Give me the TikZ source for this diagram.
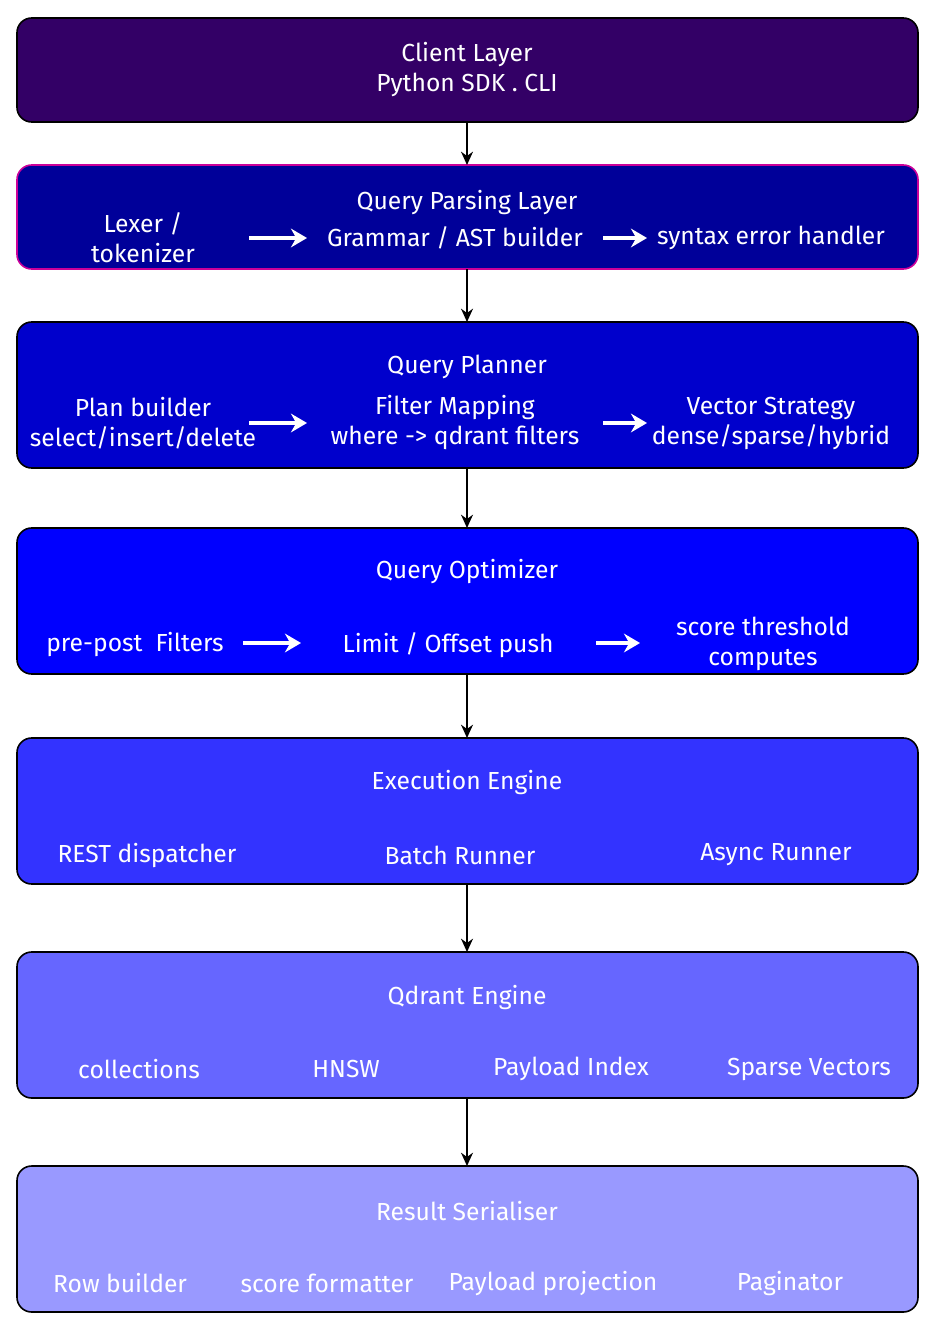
\documentclass[tikz,border=0pt]{standalone}
\usepackage{fontspec}
\setmainfont{Fira Sans}
\usetikzlibrary{arrows.meta}
\definecolor{c1}{HTML}{330066}
\definecolor{c2}{HTML}{000099}
\definecolor{c3}{HTML}{0000CC}
\definecolor{c4}{HTML}{0000FF}
\definecolor{c5}{HTML}{3333FF}
\definecolor{c6}{HTML}{6666FF}
\definecolor{c7}{HTML}{9999FF}
\definecolor{pinkb}{HTML}{CC0099}
\begin{document}
\begin{tikzpicture}[x=0.75pt,y=-0.75pt,
  box/.style={draw=black,line width=1.2pt,rounded corners=11pt},
  t/.style={text=white,font=\fontsize{18.5}{22.5}\selectfont,align=center,inner sep=0pt},
  wa/.style={draw=white,line width=2.5pt,-{Stealth[length=12pt,width=14pt]}},
  ba/.style={draw=black,line width=1pt,-{Stealth[length=10pt,width=9pt]}}]
\useasboundingbox (0,0) rectangle (940,1330);
\draw[box,fill=c1] (17,18) rectangle (918,122);
\draw[box,fill=c2,draw=pinkb] (17,165) rectangle (918,269);
\draw[box,fill=c3] (17,322) rectangle (918,468);
\draw[box,fill=c4] (17,528) rectangle (918,674);
\draw[box,fill=c5] (17,738) rectangle (918,884);
\draw[box,fill=c6] (17,952) rectangle (918,1098);
\draw[box,fill=c7] (17,1166) rectangle (918,1312);
\node[t] (cl) at (467,70) {Client Layer\\Python SDK . CLI};
\node[t] (qp) at (467,203) {Query Parsing Layer};
\node[t] (lx) at (143,238) {Lexer /\\tokenizer};
\node[t] (gr) at (455,238) {Grammar / AST builder};
\node[t] (se) at (771,238) {syntax error handler};
\node[t] (pl) at (467,367) {Query Planner};
\node[t] (pb) at (143,423) {Plan builder\\select/insert/delete};
\node[t] (fm) at (455,423) {Filter Mapping\\where -> qdrant filters};
\node[t] (vs) at (771,423) {Vector Strategy\\dense/sparse/hybrid};
\node[t] (op) at (467,572) {Query Optimizer};
\node[t] (pp) at (135,645) {pre-post\ \ Filters};
\node[t] (lo) at (448,645) {Limit / Offset push};
\node[t] (st) at (763,644) {score threshold\\computes};
\node[t] (ex) at (467,782) {Execution Engine};
\node[t] (rd) at (147,855) {REST dispatcher};
\node[t] (br) at (460,855) {Batch Runner};
\node[t] (ar) at (776,855) {Async Runner};
\node[t] (qd) at (467,997) {Qdrant Engine};
\node[t] (co) at (139,1069) {collections};
\node[t] (hn) at (346,1069) {HNSW};
\node[t] (pi) at (571,1069) {Payload Index};
\node[t] (sv) at (809,1069) {Sparse Vectors};
\node[t] (rs) at (467,1211) {Result Serialiser};
\node[t] (rb) at (120,1283) {Row builder};
\node[t] (sf) at (327,1283) {score formatter};
\node[t] (pj) at (553,1283) {Payload projection};
\node[t] (pg) at (790,1283) {Paginator};
\draw[wa] (249,238) -- (307,238);
\draw[wa] (603,238) -- (647,238);
\draw[wa] (249,423) -- (307,423);
\draw[wa] (603,423) -- (647,423);
\draw[wa] (243,643) -- (301,643);
\draw[wa] (596,643) -- (640,643);
\coordinate (a1) at (467,122); \coordinate (b1) at (467,165);
\coordinate (a2) at (467,269); \coordinate (b2) at (467,322);
\coordinate (a3) at (467,468); \coordinate (b3) at (467,528);
\coordinate (a4) at (467,674); \coordinate (b4) at (467,738);
\coordinate (a5) at (467,884); \coordinate (b5) at (467,952);
\coordinate (a6) at (467,1098); \coordinate (b6) at (467,1166);
\foreach \i in {1,...,6} {\draw[ba] (a\i) -- (b\i);}
\end{tikzpicture}
\end{document}
